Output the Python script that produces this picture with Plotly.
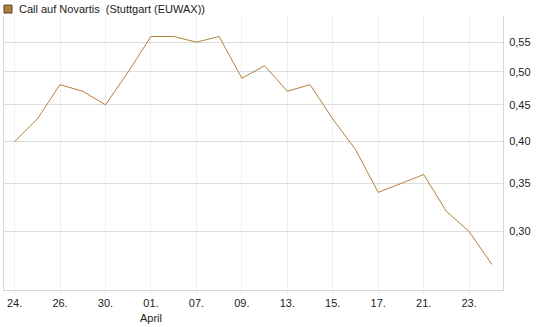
import plotly.graph_objects as go

dates = ["24.", "25.", "26.", "27.", "30.", "31.", "01.", "02.", "07.", "08.", "09.", "10.",
         "13.", "14.", "15.", "16.", "17.", "20.", "21.", "22.", "23.", "24."]
values = [0.40, 0.43, 0.48, 0.47, 0.45, 0.50, 0.56, 0.56, 0.55, 0.56, 0.49, 0.51,
          0.47, 0.48, 0.43, 0.39, 0.34, 0.35, 0.36, 0.32, 0.30, 0.27]
tick_labels = ["24.", "26.", "30.", "01.<br>April", "07.", "09.", "13.", "15.", "17.", "21.", "23."]
y_ticks = [0.30, 0.35, 0.40, 0.45, 0.50, 0.55]

idx = list(range(len(values)))
line_color = "#b5803a"

fig = go.Figure()
fig.add_trace(go.Scatter(x=idx, y=values, mode="lines",
                         line=dict(color=line_color, width=1),
                         name="Call auf Novartis  (Stuttgart (EUWAX))",
                         hoverinfo="skip", showlegend=False))

fig.update_layout(
    width=545, height=327,
    margin=dict(l=3, r=42, t=16, b=34),
    paper_bgcolor="white", plot_bgcolor="white",
    separators=",.",
    font=dict(family="Liberation Sans, Arial, sans-serif", size=11, color="#222"),
    xaxis=dict(
        range=[-0.465, 21.49],
        tickmode="array", tickvals=idx[::2], ticktext=tick_labels,
        showgrid=True, gridcolor="#efefef", gridwidth=1,
        ticks="outside", ticklen=3, tickcolor="#e6e6e6",
        showline=True, linecolor="#d6d6d6", linewidth=1,
        zeroline=False, fixedrange=True,
    ),
    yaxis=dict(
        type="log", side="right",
        range=[-0.6042, -0.2233],
        tickmode="array", tickvals=y_ticks,
        ticktext=[f"{v:.2f}".replace(".", ",") for v in y_ticks],
        showgrid=True, gridcolor="#dcdcdc", gridwidth=1,
        ticks="", ticklabelstandoff=3,
        showline=True, linecolor="#d6d6d6", linewidth=1, mirror=True,
        zeroline=False, fixedrange=True,
    ),
    shapes=[dict(type="rect", xref="paper", yref="paper",
                 x0=0, x1=8 / 500.6, y0=1 + 3 / 277.3, y1=1 + 11 / 277.3,
                 fillcolor="#b5803a", line=dict(color="#5a4020", width=1))],
    annotations=[dict(text="Call auf Novartis  (Stuttgart (EUWAX))",
                      xref="paper", yref="paper", x=13 / 500.6, y=1 + 7 / 277.3,
                      xanchor="left", yanchor="middle", showarrow=False,
                      font=dict(size=11, color="#222"))],
)

fig.write_html("out.html")
